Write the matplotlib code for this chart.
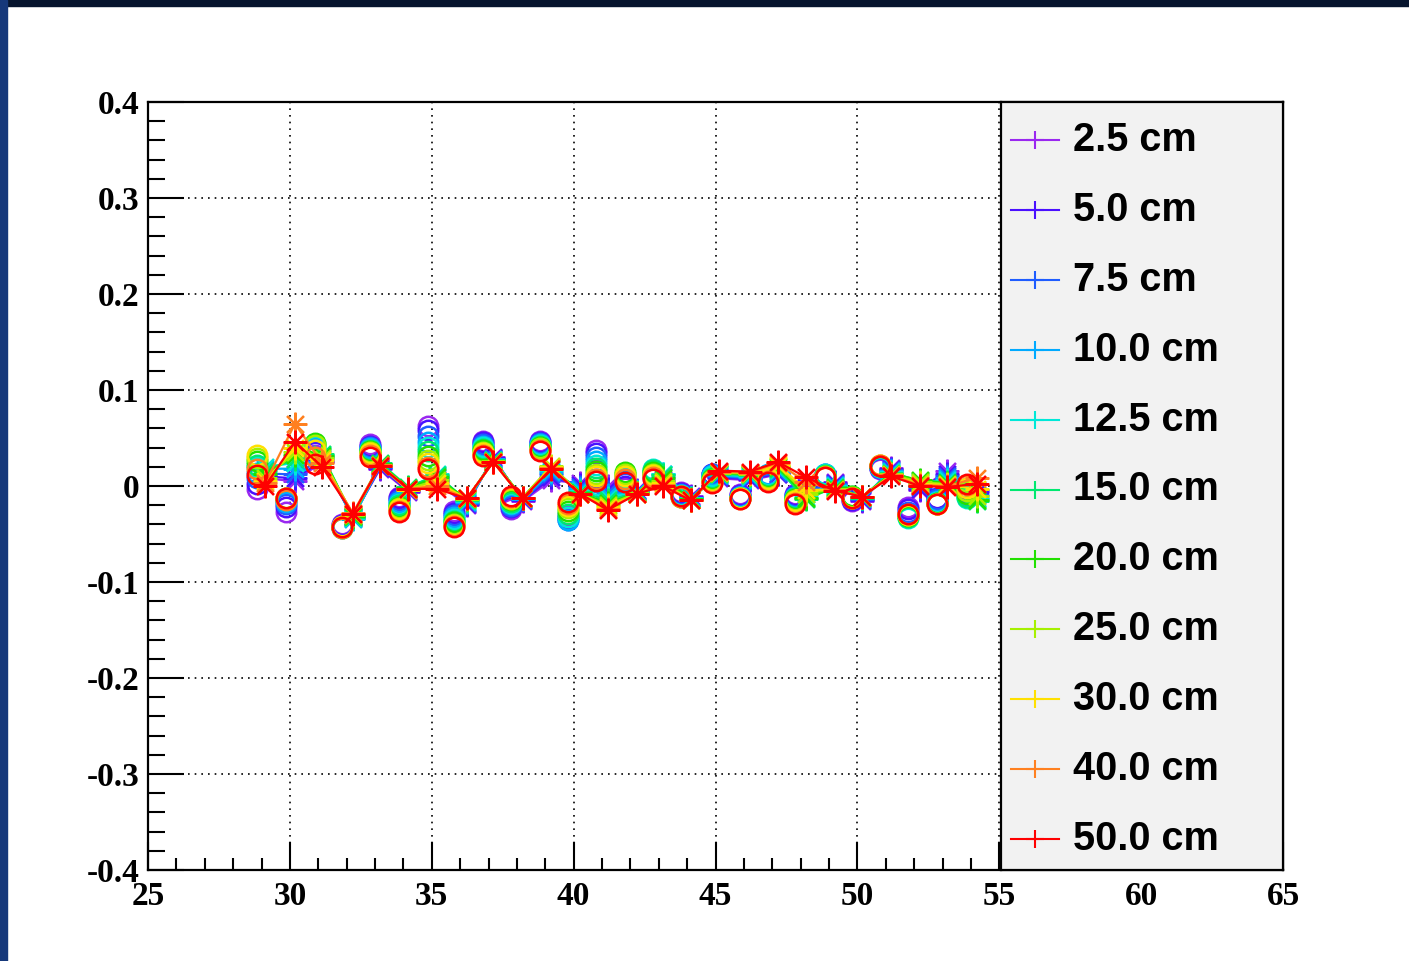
import numpy as np
import matplotlib
matplotlib.use("Agg")
import matplotlib.pyplot as plt
from matplotlib.patches import Rectangle
from matplotlib.lines import Line2D

# series labels and colours (ROOT rainbow palette)
labels = ["2.5 cm", "5.0 cm", "7.5 cm", "10.0 cm", "12.5 cm", "15.0 cm",
          "20.0 cm", "25.0 cm", "30.0 cm", "40.0 cm", "50.0 cm"]
colors = ["#9a28f0", "#4a10ff", "#1f5cff", "#00aaff", "#00e8d8", "#00e870",
          "#22e000", "#a6f000", "#ffe000", "#ff8020", "#ff0000"]

# x positions of the open-circle points and of the asterisk points
x_circ = [28.83, 29.88, 30.88, 31.83, 32.83, 33.83, 34.87, 35.77, 36.80, 37.80,
          38.80, 39.80, 40.80, 41.80, 42.80, 43.80, 44.88, 45.85, 46.85, 47.80,
          48.85, 49.80, 50.80, 51.80, 52.80, 53.85]
x_star = [29.13, 30.18, 31.13, 32.22, 33.18, 34.17, 35.18, 36.23, 37.17, 38.20,
          39.22, 40.22, 41.20, 42.25, 43.15, 44.12, 45.12, 46.20, 47.20, 48.20,
          49.20, 50.17, 51.20, 52.20, 53.15, 54.20]

# open-circle values, one list per series
circ_2p5 = [-0.003, -0.027, 0.032, -0.040, 0.044, -0.011, 0.063, -0.026, 0.047, -0.024, 0.047, -0.030, 0.038,
            -0.002, 0.008, -0.006, 0.012, -0.008, 0.006, -0.008, 0.010, -0.016, 0.018, -0.022, -0.012, -0.002]
circ_5p0 = [0.002, -0.022, 0.035, -0.041, 0.042, -0.013, 0.058, -0.028, 0.046, -0.022, 0.046, -0.033, 0.034,
            0.000, 0.010, -0.007, 0.013, -0.009, 0.008, -0.009, 0.011, -0.015, 0.019, -0.024, -0.013, -0.004]
circ_7p5 = [0.008, -0.019, 0.038, -0.042, 0.041, -0.015, 0.052, -0.030, 0.044, -0.021, 0.045, -0.035, 0.030,
            0.003, 0.012, -0.008, 0.013, -0.010, 0.010, -0.010, 0.012, -0.013, 0.019, -0.027, -0.014, -0.007]
circ_10p0 = [0.014, -0.017, 0.040, -0.043, 0.040, -0.017, 0.046, -0.032, 0.042, -0.019, 0.044, -0.035, 0.026,
             0.006, 0.015, -0.009, 0.011, -0.011, 0.012, -0.011, 0.013, -0.012, 0.020, -0.031, -0.016, -0.010]
circ_12p5 = [0.020, -0.015, 0.042, -0.044, 0.038, -0.019, 0.041, -0.034, 0.041, -0.018, 0.043, -0.032, 0.022,
             0.009, 0.018, -0.009, 0.010, -0.011, 0.011, -0.012, 0.012, -0.011, 0.020, -0.033, -0.017, -0.012]
circ_15p0 = [0.022, -0.014, 0.044, -0.044, 0.037, -0.020, 0.036, -0.036, 0.039, -0.017, 0.042, -0.029, 0.019,
             0.012, 0.017, -0.010, 0.008, -0.012, 0.010, -0.013, 0.011, -0.010, 0.021, -0.032, -0.018, -0.011]
circ_20p0 = [0.026, -0.013, 0.045, -0.043, 0.036, -0.022, 0.031, -0.038, 0.037, -0.015, 0.041, -0.026, 0.016,
             0.015, 0.015, -0.011, 0.007, -0.012, 0.009, -0.014, 0.010, -0.010, 0.021, -0.031, -0.018, -0.008]
circ_25p0 = [0.029, -0.012, 0.043, -0.043, 0.035, -0.023, 0.027, -0.040, 0.035, -0.014, 0.040, -0.023, 0.013,
             0.013, 0.013, -0.011, 0.006, -0.013, 0.008, -0.015, 0.010, -0.011, 0.022, -0.030, -0.019, -0.005]
circ_30p0 = [0.032, -0.013, 0.038, -0.042, 0.034, -0.024, 0.024, -0.041, 0.034, -0.013, 0.038, -0.021, 0.010,
             0.010, 0.011, -0.010, 0.005, -0.013, 0.007, -0.016, 0.009, -0.012, 0.022, -0.030, -0.019, -0.002]
circ_40p0 = [0.018, -0.015, 0.030, -0.044, 0.032, -0.026, 0.020, -0.042, 0.032, -0.011, 0.037, -0.019, 0.007,
             0.007, 0.009, -0.011, 0.004, -0.014, 0.005, -0.018, 0.009, -0.012, 0.022, -0.029, -0.019, 0.001]
circ_50p0 = [0.011, -0.012, 0.023, -0.043, 0.030, -0.027, 0.018, -0.043, 0.031, -0.010, 0.036, -0.017, 0.005,
             0.004, 0.007, -0.010, 0.003, -0.014, 0.004, -0.019, 0.009, -0.012, 0.021, -0.029, -0.019, 0.002]

# asterisk values (joined by a line), one list per series
star_2p5 = [0.008, 0.005, 0.025, -0.031, 0.018, -0.006, 0.004, -0.020, 0.030, -0.016, 0.006, 0.003, 0.000,
            -0.004, 0.004, -0.010, 0.008, 0.006, 0.012, 0.000, 0.004, -0.016, 0.019, -0.004, 0.016, -0.004]
star_5p0 = [0.010, 0.008, 0.026, -0.032, 0.019, -0.005, 0.006, -0.019, 0.029, -0.015, 0.009, 0.001, -0.003,
            -0.005, 0.006, -0.011, 0.009, 0.007, 0.013, -0.002, 0.003, -0.015, 0.018, -0.003, 0.013, -0.006]
star_7p5 = [0.013, 0.012, 0.028, -0.033, 0.020, -0.004, 0.008, -0.018, 0.028, -0.014, 0.012, -0.001, -0.006,
            -0.005, 0.009, -0.012, 0.010, 0.008, 0.014, -0.005, 0.002, -0.014, 0.017, -0.001, 0.010, -0.009]
star_10p0 = [0.018, 0.018, 0.030, -0.034, 0.022, -0.003, 0.010, -0.017, 0.028, -0.014, 0.015, -0.003, -0.009,
             -0.006, 0.012, -0.013, 0.011, 0.009, 0.016, -0.008, 0.001, -0.013, 0.016, 0.001, 0.008, -0.012]
star_12p5 = [0.020, 0.024, 0.032, -0.033, 0.023, -0.002, 0.012, -0.016, 0.027, -0.013, 0.017, -0.005, -0.012,
             -0.006, 0.013, -0.013, 0.012, 0.010, 0.017, -0.011, 0.000, -0.012, 0.015, 0.003, 0.006, -0.014]
star_15p0 = [0.016, 0.028, 0.033, -0.032, 0.024, -0.001, 0.011, -0.015, 0.027, -0.013, 0.019, -0.006, -0.015,
             -0.007, 0.011, -0.014, 0.013, 0.011, 0.018, -0.014, -0.001, -0.012, 0.014, 0.005, 0.004, -0.016]
star_20p0 = [0.012, 0.032, 0.031, -0.031, 0.023, -0.002, 0.009, -0.014, 0.026, -0.012, 0.020, -0.007, -0.018,
             -0.007, 0.008, -0.014, 0.014, 0.012, 0.020, -0.012, -0.002, -0.011, 0.013, 0.006, 0.003, -0.015]
star_25p0 = [0.008, 0.035, 0.029, -0.030, 0.022, -0.003, 0.006, -0.014, 0.026, -0.012, 0.021, -0.008, -0.020,
             -0.007, 0.005, -0.015, 0.014, 0.013, 0.021, -0.008, -0.003, -0.011, 0.012, 0.004, 0.002, -0.010]
star_30p0 = [0.005, 0.040, 0.027, -0.029, 0.021, -0.004, 0.003, -0.013, 0.025, -0.013, 0.020, -0.008, -0.022,
             -0.008, 0.003, -0.015, 0.015, 0.014, 0.022, -0.004, -0.004, -0.011, 0.011, 0.002, 0.001, -0.003]
star_40p0 = [0.003, 0.065, 0.024, -0.028, 0.022, -0.003, 0.000, -0.013, 0.025, -0.013, 0.019, -0.008, -0.024,
             -0.008, 0.001, -0.015, 0.015, 0.014, 0.024, 0.004, -0.004, -0.011, 0.011, 0.001, 0.000, 0.008]
star_50p0 = [0.000, 0.046, 0.020, -0.029, 0.021, -0.003, -0.003, -0.013, 0.025, -0.013, 0.018, -0.008, -0.025,
             -0.008, 0.000, -0.015, 0.016, 0.015, 0.025, 0.009, -0.005, -0.011, 0.010, 0.000, -0.001, 0.002]

circ_all = [circ_2p5, circ_5p0, circ_7p5, circ_10p0, circ_12p5, circ_15p0,
            circ_20p0, circ_25p0, circ_30p0, circ_40p0, circ_50p0]
star_all = [star_2p5, star_5p0, star_7p5, star_10p0, star_12p5, star_15p0,
            star_20p0, star_25p0, star_30p0, star_40p0, star_50p0]

fig = plt.figure(figsize=(14.09, 9.61), dpi=100, facecolor="white")

# dark slide border at top and left
fig.patches.append(Rectangle((0, 1 - 6 / 961), 1, 6 / 961, transform=fig.transFigure,
                             color="#07152e", zorder=0))
fig.patches.append(Rectangle((0, 0), 7 / 1409, 1, transform=fig.transFigure,
                             color="#16387a", zorder=0))

ax = fig.add_axes([148 / 1409, 1 - 870 / 961, (1283 - 148) / 1409, (870 - 102) / 961])
ax.set_xlim(25, 65)
ax.set_ylim(-0.4, 0.4)

asterisk = (8, 2, 0)
for k in range(len(labels)):
    ax.plot(x_circ, circ_all[k], linestyle="none", marker="o", markersize=14,
            markerfacecolor="none", markeredgecolor=colors[k], markeredgewidth=1.8,
            zorder=3 + k)
    ax.plot(x_star, star_all[k], color=colors[k], linewidth=1.6, marker=asterisk,
            markersize=17, markeredgewidth=1.6, zorder=3 + k)

ax.set_xticks(np.arange(25, 66, 5))
ax.set_xticks(np.arange(25, 66, 1), minor=True)
ax.set_yticks(np.arange(-0.4, 0.41, 0.1))
ax.set_yticks(np.arange(-0.4, 0.41, 0.02), minor=True)
ax.set_yticklabels(["-0.4", "-0.3", "-0.2", "-0.1", "0", "0.1", "0.2", "0.3", "0.4"])

ax.grid(True, which="major", color="black", linestyle=(0, (1, 3)), linewidth=1.2)
ax.tick_params(axis="both", which="both", direction="in", top=False, right=False,
               width=1.5, colors="black")
ax.tick_params(axis="y", which="major", length=26, pad=6)
ax.tick_params(axis="y", which="minor", length=12)
ax.tick_params(axis="x", which="major", length=20, pad=8)
ax.tick_params(axis="x", which="minor", length=9)
for lab in ax.get_xticklabels() + ax.get_yticklabels():
    lab.set_fontfamily("Liberation Serif")
    lab.set_fontweight("bold")
    lab.set_fontsize(24)
for sp in ax.spines.values():
    sp.set_linewidth(1.6)

# legend box covering the right part of the frame
lax = fig.add_axes([1001 / 1409, 1 - 870 / 961, (1283 - 1001) / 1409, (870 - 102) / 961])
lax.set_facecolor("#f2f2f2")
lax.set_xlim(0, 1)
lax.set_ylim(0, 1)
lax.set_xticks([])
lax.set_yticks([])
for sp in lax.spines.values():
    sp.set_linewidth(1.6)
for i, (lab, c) in enumerate(zip(labels, colors)):
    yy = 1 - (38 + 69.9 * i) / 768
    lax.add_line(Line2D([10 / 282, 58 / 282], [yy, yy], color=c, linewidth=1.5))
    lax.add_line(Line2D([34 / 282], [yy], color=c, marker="+", markersize=13,
                        markeredgewidth=1.5))
    lax.text(72 / 282, yy, lab, fontsize=28.5, fontweight="bold",
             family="Liberation Sans", va="center", ha="left")

fig.savefig("out.png", dpi=100, facecolor="white")
